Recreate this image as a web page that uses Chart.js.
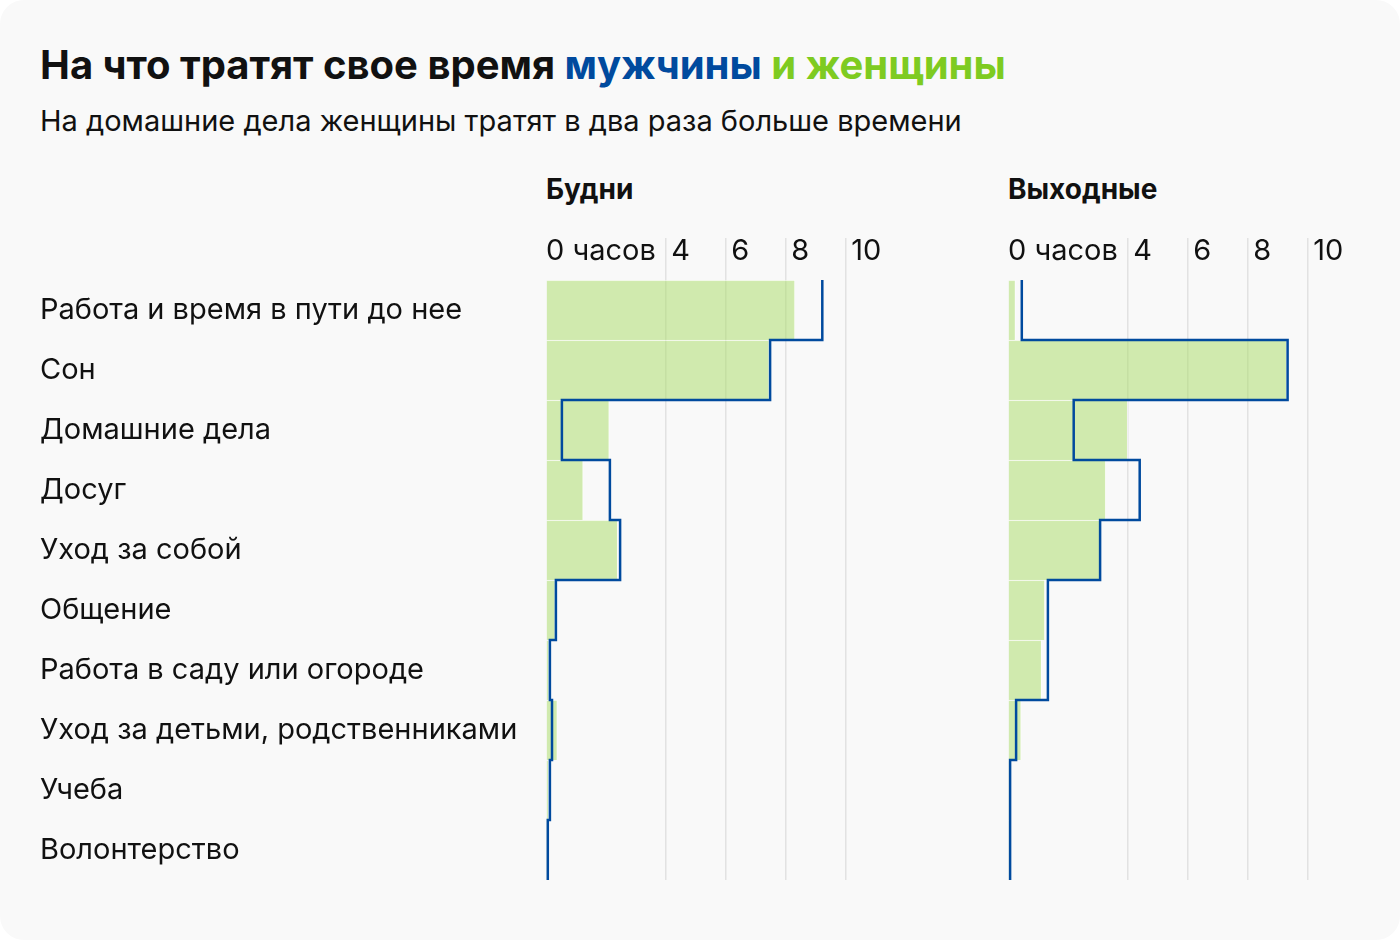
<!DOCTYPE html>
<html lang="ru">
<head>
<meta charset="utf-8">
<script src="https://cdn.jsdelivr.net/npm/chart.js@4"></script>
<style>
body{margin:0;background:#fff;font-family:Inter,"Noto Sans",sans-serif;color:#111}
.card{position:absolute;left:0;top:0;width:1400px;height:940px;background:#f9f9f9;border-radius:24px}
.ttl{position:absolute;left:40px;top:45px;font-size:40px;font-weight:700;line-height:1;white-space:nowrap}
.sub{position:absolute;left:40px;top:106px;font-size:29px;line-height:1;white-space:nowrap}
.pt{position:absolute;top:175px;font-size:28px;font-weight:700;line-height:1}
canvas{position:absolute}
</style>
</head>
<body>
<div class="card">
<div class="ttl">На что тратят свое время <span style="color:#004a9e">мужчины</span> <span style="color:#7ecb21">и женщины</span></div>
<div class="sub">На домашние дела женщины тратят в два раза больше времени</div>
<div class="pt" style="left:546px">Будни</div>
<div class="pt" style="left:1008px">Выходные</div>
<canvas id="c1" width="860" height="654" style="left:40px;top:230px;width:860px;height:654px"></canvas>
<canvas id="c2" width="380" height="654" style="left:990px;top:230px;width:380px;height:654px"></canvas>
</div>

<script>
// данные, часы в день
var categories = ['Работа и время в пути до нее','Сон','Домашние дела','Досуг','Уход за собой','Общение','Работа в саду или огороде','Уход за детьми, родственниками','Учеба','Волонтерство'];
var weekdayWomen = [8.3, 7.44, 2.11, 1.24, 2.39, 0.31, 0.1, 0.38, 0.08, 0.02];
var weekdayMen = [9.21, 7.47, 0.53, 2.13, 2.47, 0.33, 0.13, 0.2, 0.13, 0.06];
var weekendWomen = [0.25, 9.29, 3.99, 3.26, 3.07, 1.23, 1.12, 0.44, 0.03, 0.02];
var weekendMen = [0.46, 9.32, 2.19, 4.39, 3.07, 1.33, 1.33, 0.27, 0.07, 0.07];
var tickValues = [0, 4, 6, 8, 10];

var BLUE = '#004a9e';
var FONT = 'Inter, "Noto Sans", sans-serif';

// ступенька: каждая строка от верхней до нижней границы
function stepPoints(vals) {
  var pts = [];
  vals.forEach(function(v, i){
    pts.push({x: v, y: i - 0.5});
    pts.push({x: v, y: i + 0.5});
  });
  return pts;
}

function makeChart(id, women, men, showLabels, pad) {
  return new Chart(document.getElementById(id), {
    type: 'bar',
    data: {
      labels: categories,
      datasets: [
        {type:'line', data: stepPoints(men), yAxisID:'y2', borderColor: BLUE, borderWidth: 2.5,
         pointRadius: 0, fill: false, tension: 0, clip: false, borderJoinStyle: 'miter', order: 0},
        {data: women, yAxisID:'y', backgroundColor: 'rgba(167,219,99,0.5)', borderColor: 'rgba(255,255,255,0.6)',
         borderWidth: {top:1, right:1, bottom:0, left:0}, grouped: false,
         barPercentage: 1, categoryPercentage: 1, order: 1}
      ]
    },
    options: {
      indexAxis: 'y',
      responsive: false,
      animation: false,
      layout: {padding: pad},
      plugins: {legend: {display: false}, tooltip: {enabled: false}},
      scales: {
        x: {
          type: 'linear', position: 'top', min: 0, max: 10,
          afterBuildTicks: function(s){ s.ticks = tickValues.map(function(v){ return {value: v}; }); },
          afterFit: function(s){ s.height = 50; },
          border: {display: false},
          grid: {
            tickLength: 42,
            lineWidth: 1.5,
            color: function(c){ return c.tick && c.tick.value === 0 ? 'rgba(0,0,0,0)' : '#e2e2e2'; }
          },
          ticks: {
            autoSkip: false, maxRotation: 0, minRotation: 0,
            align: 'start', labelOffset: 0, padding: -31,
            color: '#111', font: {family: FONT, size: 29},
            // тонкий пробел отодвигает цифры от линии сетки
            callback: function(v){ return v === 0 ? '0 часов' : '\u2009' + v; }
          }
        },
        y: {
          type: 'category', offset: true,
          display: showLabels,
          afterFit: function(s){
            if (showLabels) s.width = 506;
            s.paddingTop = 0; s.paddingBottom = 0;
          },
          grid: {display: false},
          border: {display: false},
          ticks: {crossAlign: 'far', color: '#111', font: {family: FONT, size: 29}, padding: 0}
        },
        y2: {type: 'linear', display: false, offset: false, min: -0.5, max: 9.5, reverse: true,
             grid: {offset: false}}
      }
    }
  });
}

makeChart('c1', weekdayWomen, weekdayMen, true, {left:0, right:54, top:0, bottom:4});
makeChart('c2', weekendWomen, weekendMen, false, {left:18, right:62, top:0, bottom:4});
</script>
</body>
</html>
